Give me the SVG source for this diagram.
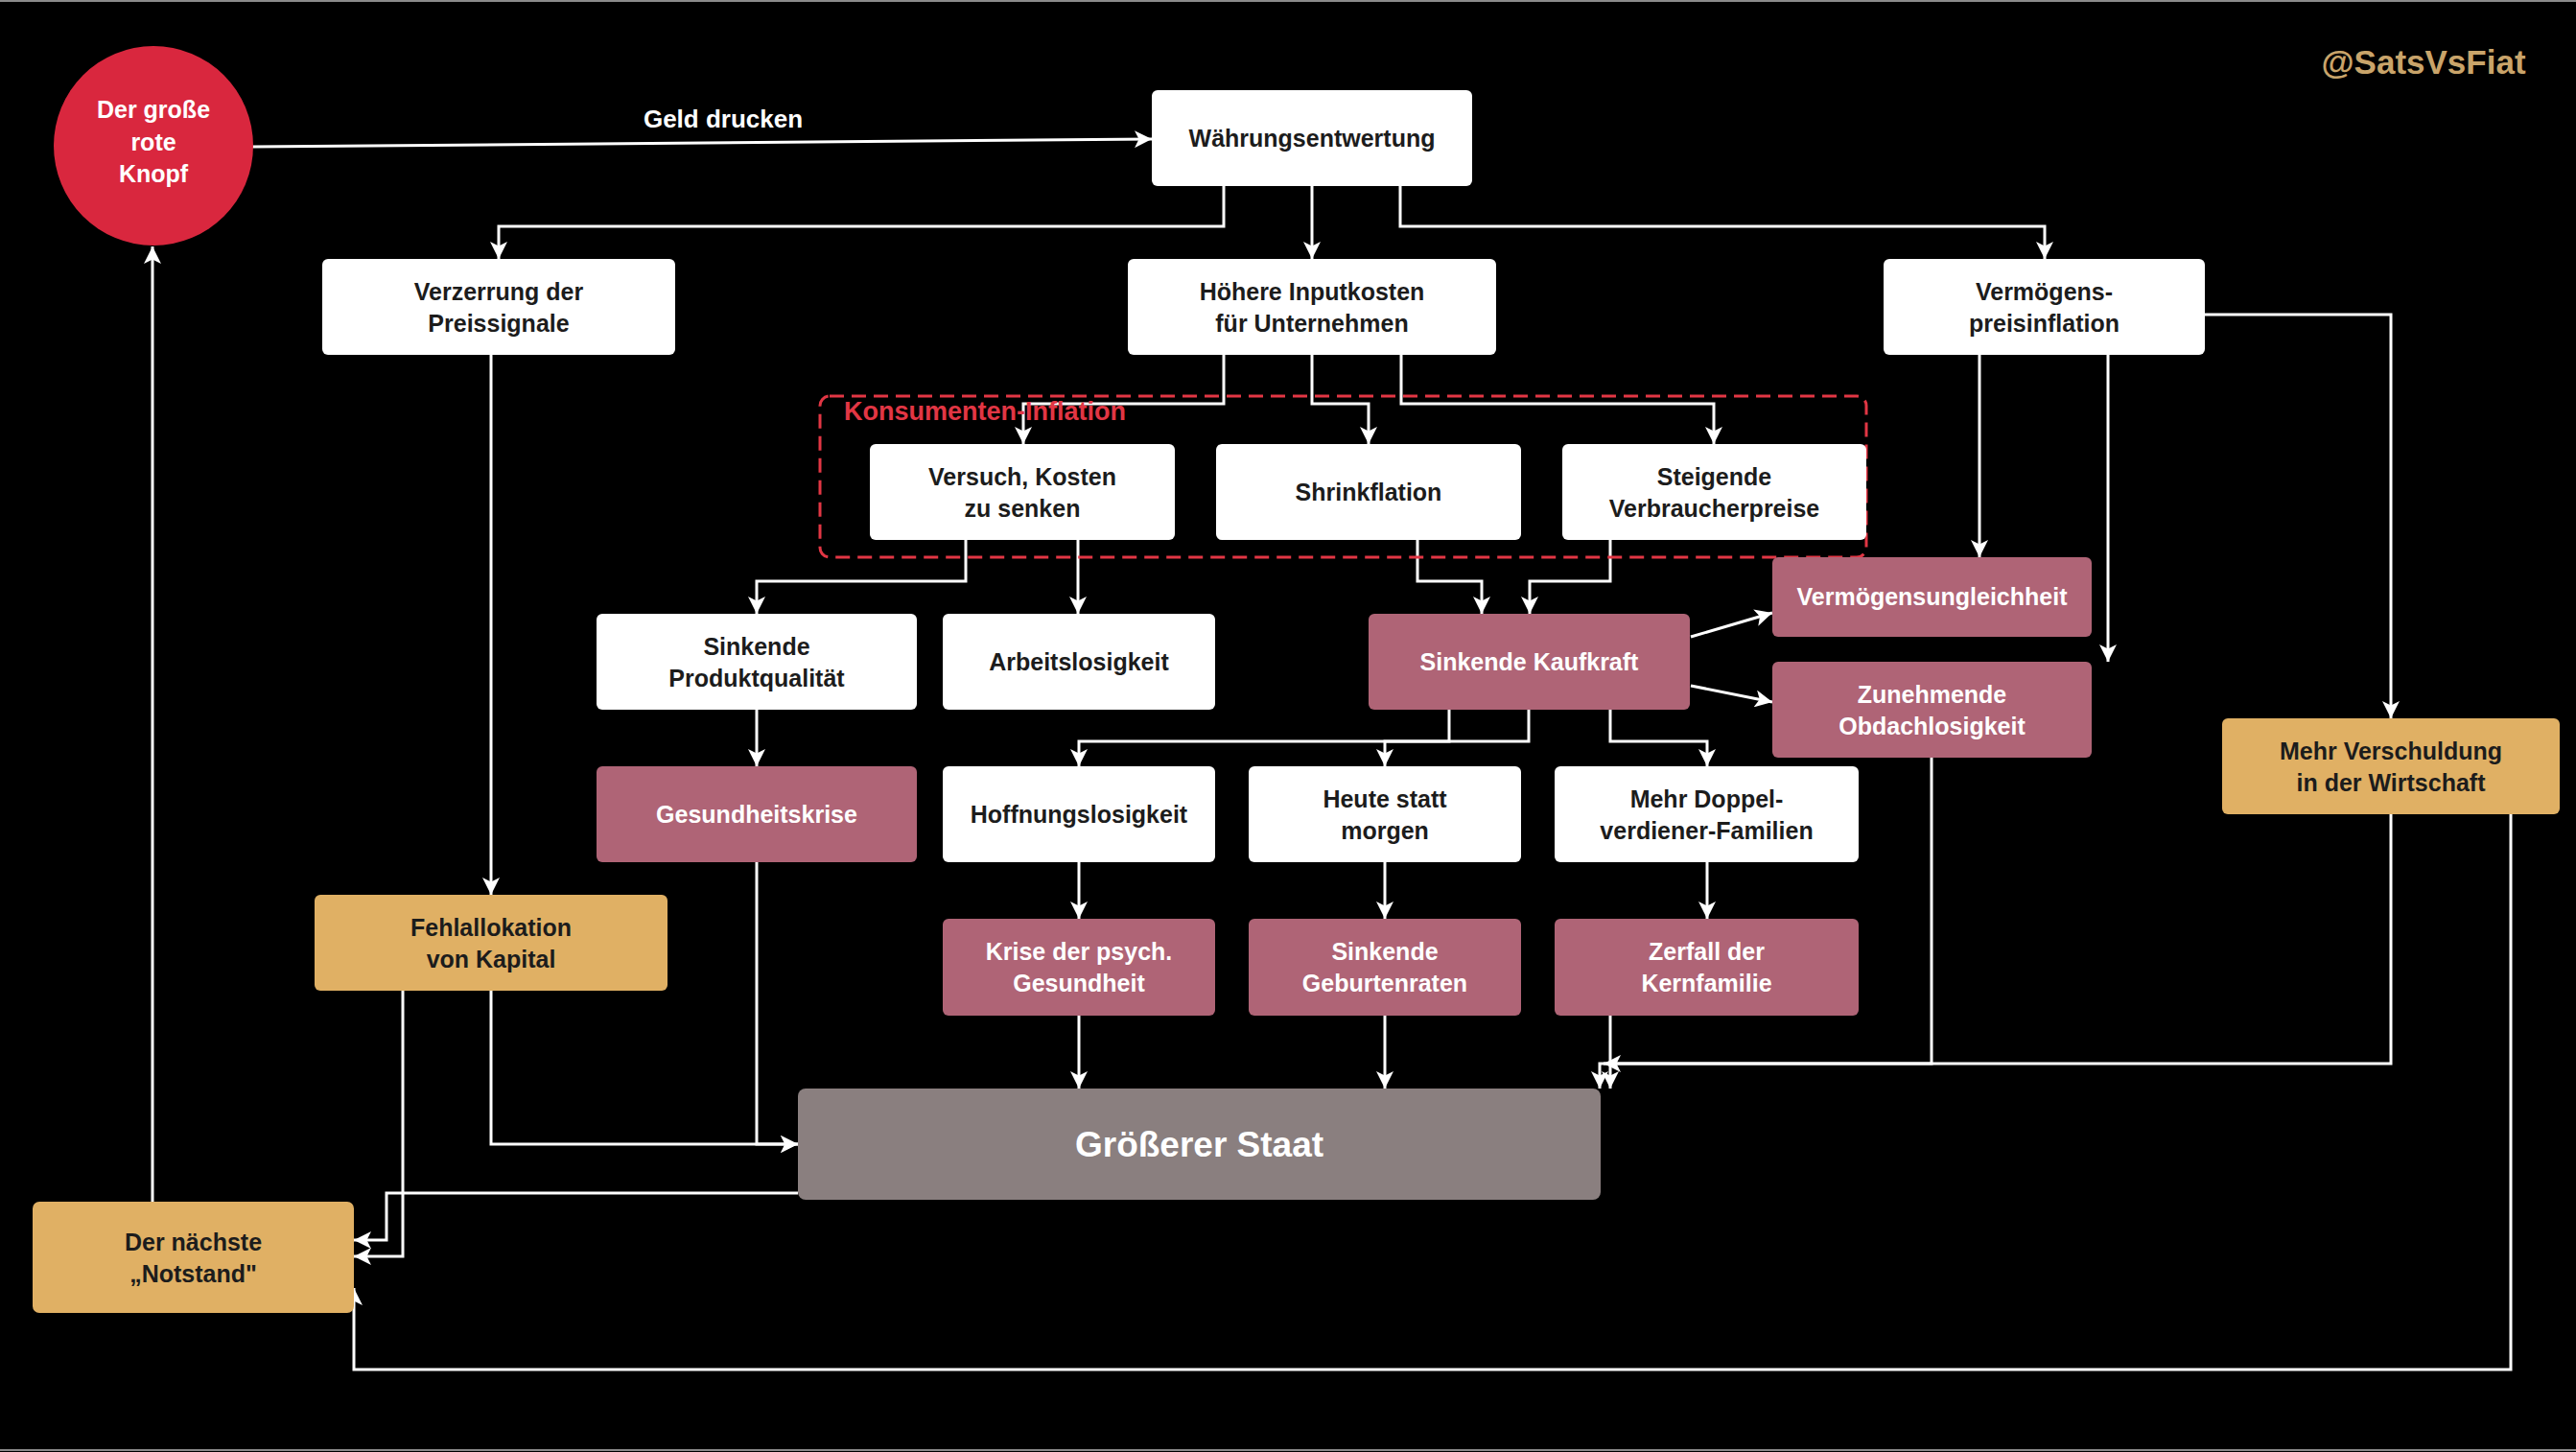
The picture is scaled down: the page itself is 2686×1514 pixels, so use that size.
<svg xmlns="http://www.w3.org/2000/svg" width="2686" height="1514" viewBox="0 0 2686 1514">
<style>
text{font-family:"Liberation Sans",Arial,sans-serif;font-weight:bold;font-size:25px;text-anchor:middle}
.w{fill:#ffffff}
.r{fill:#AF6476}
.g{fill:#E0B064}
.dk{fill:#1c1c1c}
.wt{fill:#ffffff}
.c{fill:none;stroke:#ffffff;stroke-width:3}
</style>
<defs>
<marker id="a" viewBox="0 0 10 10" refX="10" refY="5" markerWidth="18" markerHeight="18" markerUnits="userSpaceOnUse" orient="auto">
<path d="M0,0 L10,5 L0,10 L2.5,5 z" fill="#ffffff"/>
</marker>
</defs>
<rect x="0" y="0" width="2686" height="1514" fill="#000000"/>
<line x1="0" y1="1" x2="2686" y2="1" stroke="#8a8a8a" stroke-width="2"/>
<line x1="0" y1="1512" x2="2686" y2="1512" stroke="#8a8a8a" stroke-width="2"/>
<text x="2527" y="77" style="font-size:35px;fill:#C9A46A">@SatsVsFiat</text>

<g id="connectors">
<path class="c" marker-end="url(#a)" d="M263,153 L1201,145"/>
<path class="c" marker-end="url(#a)" d="M1276,194 V236 H520 V270"/>
<path class="c" marker-end="url(#a)" d="M1368,194 V270"/>
<path class="c" marker-end="url(#a)" d="M1460,194 V236 H2132 V270"/>
<path class="c" marker-end="url(#a)" d="M1276,370 V421 H1067 V463"/>
<path class="c" marker-end="url(#a)" d="M1368,370 V421 H1427 V463"/>
<path class="c" marker-end="url(#a)" d="M1461,370 V421 H1787 V463"/>
<path class="c" marker-end="url(#a)" d="M1007,563 V606 H789 V640"/>
<path class="c" marker-end="url(#a)" d="M1124,563 V640"/>
<path class="c" marker-end="url(#a)" d="M1478,563 V606 H1545 V640"/>
<path class="c" marker-end="url(#a)" d="M1679,563 V606 H1595 V640"/>
<path class="c" marker-end="url(#a)" d="M1763,664 L1848,639"/>
<path class="c" marker-end="url(#a)" d="M1763,715 L1848,732"/>
<path class="c" marker-end="url(#a)" d="M2064,370 V581"/>
<path class="c" marker-end="url(#a)" d="M2198,370 V690"/>
<path class="c" marker-end="url(#a)" d="M2299,328 H2493 V749"/>
<path class="c" marker-end="url(#a)" d="M512,370 V933"/>
<path class="c" marker-end="url(#a)" d="M789,740 V799"/>
<path class="c" marker-end="url(#a)" d="M1511,740 V773 H1125 V799"/>
<path class="c" marker-end="url(#a)" d="M1594,740 V773 H1444 V799"/>
<path class="c" marker-end="url(#a)" d="M1679,740 V773 H1780 V799"/>
<path class="c" marker-end="url(#a)" d="M1125,899 V958"/>
<path class="c" marker-end="url(#a)" d="M1444,899 V958"/>
<path class="c" marker-end="url(#a)" d="M1780,899 V958"/>
<path class="c" marker-end="url(#a)" d="M1125,1059 V1135"/>
<path class="c" marker-end="url(#a)" d="M1444,1059 V1135"/>
<path class="c" marker-end="url(#a)" d="M1679,1059 V1135"/>
<path class="c" marker-end="url(#a)" d="M2014,790 V1109 H1668 V1135"/>
<path class="c" marker-end="url(#a)" d="M2493,849 V1109 H1672"/>
<path class="c" marker-end="url(#a)" d="M789,899 V1193 H832"/>
<path class="c" marker-end="url(#a)" d="M512,1033 V1193 H832"/>
<path class="c" marker-end="url(#a)" d="M420,1033 V1310 H369"/>
<path class="c" marker-end="url(#a)" d="M832,1244 H403 V1293 H369"/>
<path class="c" marker-end="url(#a)" d="M2618,849 V1428 H369 V1343"/>
<path class="c" marker-end="url(#a)" d="M159,1253 V257"/>
<text x="754" y="133" class="wt" style="font-size:26px">Geld drucken</text>
</g>

<g id="konsumenten-inflation">
<rect x="855" y="413" width="1091" height="168" rx="10" fill="none" stroke="#E23644" stroke-width="3" stroke-dasharray="15 8"/>
<text x="1027" y="438" style="font-size:27px;fill:#E23644">Konsumenten-Inflation</text>
</g>

<g id="knopf">
<circle cx="160" cy="152" r="104" fill="#D9273E"/>
<text x="160" y="123" class="wt">Der große</text>
<text x="160" y="157" class="wt">rote</text>
<text x="160" y="190" class="wt">Knopf</text>
</g>

<g id="waehrung">
<rect x="1201" y="94" width="334" height="100" rx="6" class="w"/>
<text x="1368" y="153" class="dk">Währungsentwertung</text>
</g>

<g id="verzerrung">
<rect x="336" y="270" width="368" height="100" rx="6" class="w"/>
<text x="520" y="312.5" class="dk">Verzerrung der</text>
<text x="520" y="345.5" class="dk">Preissignale</text>
</g>

<g id="inputkosten">
<rect x="1176" y="270" width="384" height="100" rx="6" class="w"/>
<text x="1368" y="312.5" class="dk">Höhere Inputkosten</text>
<text x="1368" y="345.5" class="dk">für Unternehmen</text>
</g>

<g id="vpreisinflation">
<rect x="1964" y="270" width="335" height="100" rx="6" class="w"/>
<text x="2131.5" y="312.5" class="dk">Vermögens-</text>
<text x="2131.5" y="345.5" class="dk">preisinflation</text>
</g>

<g id="versuch">
<rect x="907" y="463" width="318" height="100" rx="6" class="w"/>
<text x="1066" y="505.5" class="dk">Versuch, Kosten</text>
<text x="1066" y="538.5" class="dk">zu senken</text>
</g>

<g id="shrinkflation">
<rect x="1268" y="463" width="318" height="100" rx="6" class="w"/>
<text x="1427" y="522" class="dk">Shrinkflation</text>
</g>

<g id="steigende">
<rect x="1629" y="463" width="317" height="100" rx="6" class="w"/>
<text x="1787.5" y="505.5" class="dk">Steigende</text>
<text x="1787.5" y="538.5" class="dk">Verbraucherpreise</text>
</g>

<g id="produktqualitaet">
<rect x="622" y="640" width="334" height="100" rx="6" class="w"/>
<text x="789" y="682.5" class="dk">Sinkende</text>
<text x="789" y="715.5" class="dk">Produktqualität</text>
</g>

<g id="arbeitslosigkeit">
<rect x="983" y="640" width="284" height="100" rx="6" class="w"/>
<text x="1125" y="699" class="dk">Arbeitslosigkeit</text>
</g>

<g id="kaufkraft">
<rect x="1427" y="640" width="335" height="100" rx="6" class="r"/>
<text x="1594.5" y="699" class="wt">Sinkende Kaufkraft</text>
</g>

<g id="ungleichheit">
<rect x="1848" y="581" width="333" height="83" rx="6" class="r"/>
<text x="2014.5" y="631" class="wt">Vermögensungleichheit</text>
</g>

<g id="obdachlosigkeit">
<rect x="1848" y="690" width="333" height="100" rx="6" class="r"/>
<text x="2014.5" y="732.5" class="wt">Zunehmende</text>
<text x="2014.5" y="765.5" class="wt">Obdachlosigkeit</text>
</g>

<g id="verschuldung">
<rect x="2317" y="749" width="352" height="100" rx="6" class="g"/>
<text x="2493" y="791.5" class="dk">Mehr Verschuldung</text>
<text x="2493" y="824.5" class="dk">in der Wirtschaft</text>
</g>

<g id="gesundheitskrise">
<rect x="622" y="799" width="334" height="100" rx="6" class="r"/>
<text x="789" y="858" class="wt">Gesundheitskrise</text>
</g>

<g id="hoffnungslosigkeit">
<rect x="983" y="799" width="284" height="100" rx="6" class="w"/>
<text x="1125" y="858" class="dk">Hoffnungslosigkeit</text>
</g>

<g id="heute">
<rect x="1302" y="799" width="284" height="100" rx="6" class="w"/>
<text x="1444" y="841.5" class="dk">Heute statt</text>
<text x="1444" y="874.5" class="dk">morgen</text>
</g>

<g id="doppelverdiener">
<rect x="1621" y="799" width="317" height="100" rx="6" class="w"/>
<text x="1779.5" y="841.5" class="dk">Mehr Doppel-</text>
<text x="1779.5" y="874.5" class="dk">verdiener-Familien</text>
</g>

<g id="psych">
<rect x="983" y="958" width="284" height="101" rx="6" class="r"/>
<text x="1125" y="1001" class="wt">Krise der psych.</text>
<text x="1125" y="1034" class="wt">Gesundheit</text>
</g>

<g id="geburtenraten">
<rect x="1302" y="958" width="284" height="101" rx="6" class="r"/>
<text x="1444" y="1001" class="wt">Sinkende</text>
<text x="1444" y="1034" class="wt">Geburtenraten</text>
</g>

<g id="kernfamilie">
<rect x="1621" y="958" width="317" height="101" rx="6" class="r"/>
<text x="1779.5" y="1001" class="wt">Zerfall der</text>
<text x="1779.5" y="1034" class="wt">Kernfamilie</text>
</g>

<g id="fehlallokation">
<rect x="328" y="933" width="368" height="100" rx="6" class="g"/>
<text x="512" y="975.5" class="dk">Fehlallokation</text>
<text x="512" y="1008.5" class="dk">von Kapital</text>
</g>

<g id="staat">
<rect x="832" y="1135" width="837" height="116" rx="8" fill="#8A7F7F"/>
<text x="1250.5" y="1206" class="wt" style="font-size:37px">Größerer Staat</text>
</g>

<g id="notstand">
<rect x="34" y="1253" width="335" height="116" rx="7" class="g"/>
<text x="201.5" y="1303.5" class="dk">Der nächste</text>
<text x="201.5" y="1336.5" class="dk">„Notstand"</text>
</g>
</svg>
